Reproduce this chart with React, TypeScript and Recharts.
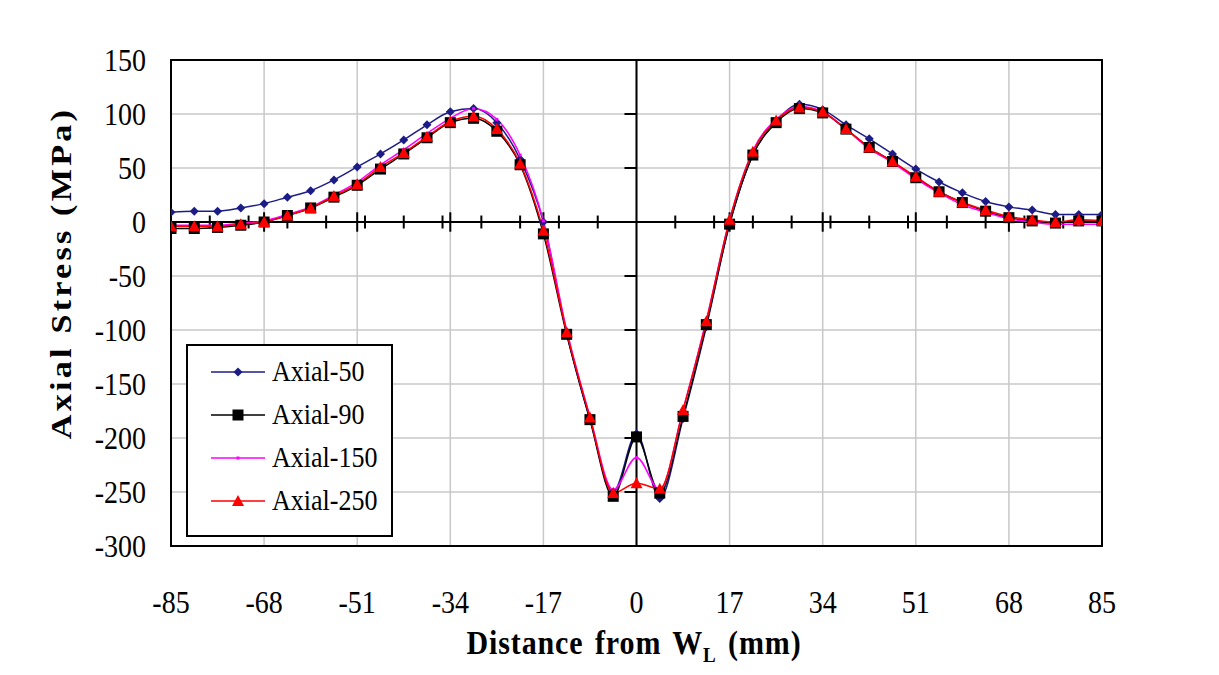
import React from 'react';
import { LineChart, Line, XAxis, YAxis, CartesianGrid, ReferenceLine, ReferenceArea, Customized } from 'recharts';

const X_VALUES = [
  -85, -80.75, -76.5, -72.25, -68, -63.75, -59.5, -55.25, -51, -46.75, -42.5,
  -38.25, -34, -29.75, -25.5, -21.25, -17, -12.75, -8.5, -4.25, 0, 4.25, 8.5,
  12.75, 17, 21.25, 25.5, 29.75, 34, 38.25, 42.5, 46.75, 51, 55.25, 59.5, 63.75,
  68, 72.25, 76.5, 80.75, 85,
];

const AXIAL_50 = [
  9, 10, 10, 13, 17, 23, 29, 39, 51, 63, 76, 90, 102, 105, 92, 58, 0, -103, -183,
  -250, -196, -256, -182, -97, -2, 62, 93, 109, 104, 90, 77, 63, 49, 37, 27, 19,
  14, 11, 7, 7, 7,
];

const AXIAL_90 = [
  -6, -6, -5, -3, 0, 6, 13, 23, 34, 49, 63, 78, 92, 96, 84, 53, -11, -104, -183,
  -254, -199, -251, -180, -95, -2, 62, 92, 105, 101, 86, 69, 56, 41, 28, 18, 10,
  4, 1, -1, 1, 1,
];

const AXIAL_150 = [
  -3, -3, -3, -1, 1, 7, 14, 25, 37, 53, 67, 82, 96, 105, 95, 62, 1, -100, -180,
  -248, -218, -248, -174, -91, 2, 66, 95, 107, 102, 86, 68, 55, 40, 27, 16, 9, 3,
  0, -2, -2, -2,
];

const AXIAL_250 = [
  -4, -4, -4, -2, 0, 6, 13, 24, 35, 51, 64, 79, 93, 98, 86, 54, -8, -102, -181,
  -251, -242, -247, -174, -92, 2, 65, 94, 106, 102, 86, 69, 56, 42, 28, 18, 11, 5,
  2, 0, 2, 1,
];

const SERIES_NAMES = ['Axial-50', 'Axial-90', 'Axial-150', 'Axial-250'];
const SERIES_KEYS = ['a50', 'a90', 'a150', 'a250'];
const SERIES_COLORS = ['#1c1c86', '#000000', '#ff00ff', '#ff0000'];

const X_TICKS = [-85, -68, -51, -34, -17, 0, 17, 34, 51, 68, 85];
const Y_TICKS = [-300, -250, -200, -150, -100, -50, 0, 50, 100, 150];
const ZERO_AXIS_MINOR_TICKS = [
  -77.92, -70.83, -63.75, -56.67, -49.58, -42.5, -35.42, -28.33, -21.25, -14.17,
  -7.08, 7.08, 14.17, 21.25, 28.33, 35.42, 42.5, 49.58, 56.67, 63.75, 70.83, 77.92,
];
const ZERO_AXIS_MAJOR_TICKS = [-68, -51, -34, -17, 17, 34, 51, 68];

const data = X_VALUES.map((x, i) => ({
  x,
  a50: AXIAL_50[i],
  a90: AXIAL_90[i],
  a150: AXIAL_150[i],
  a250: AXIAL_250[i],
}));

const FONT = '"Liberation Serif", "Times New Roman", serif';
const STRETCH = 1.14;
const FRAME_COLOR = '#5b8bd6';

type Shape = 'diamond' | 'square' | 'dash' | 'triangle';
const SHAPES: Shape[] = ['diamond', 'square', 'dash', 'triangle'];

function markerPath(shape: Shape, cx: number, cy: number): string {
  switch (shape) {
    case 'diamond':
      return `M${cx},${cy - 4.5}L${cx + 4.5},${cy}L${cx},${cy + 4.5}L${cx - 4.5},${cy}Z`;
    case 'square':
      return `M${cx - 5.5},${cy - 5.5}h11v11h-11Z`;
    case 'triangle':
      return `M${cx},${cy - 6}L${cx + 6},${cy + 5}L${cx - 6},${cy + 5}Z`;
    default:
      return `M${cx - 1.5},${cy - 1.5}h3v3h-3Z`;
  }
}

function makeDot(shape: Shape, color: string) {
  return (props: any) => {
    const { cx, cy, index } = props;
    if (cx == null || cy == null) return <g key={`d-${shape}-${index}`} />;
    return <path key={`d-${shape}-${index}`} d={markerPath(shape, cx, cy)} fill={color} stroke="none" />;
  };
}

function YTick(props: any) {
  const { x, y, payload } = props;
  return (
    <g transform={`translate(${x},${y})`}>
      <text
        transform={`scale(1,${STRETCH})`}
        textAnchor="end"
        dy="0.34em"
        fontSize={28}
        fontFamily={FONT}
        fill="#000"
      >
        {payload.value}
      </text>
    </g>
  );
}

function XTick(props: any) {
  const { x, y, payload } = props;
  return (
    <g transform={`translate(${x},${y})`}>
      <text
        transform={`scale(1,${STRETCH})`}
        textAnchor="middle"
        dy="0.71em"
        fontSize={28}
        fontFamily={FONT}
        fill="#000"
      >
        {payload.value}
      </text>
    </g>
  );
}

function Frame() {
  return (
    <path
      d="M7,690 L7,7 L1212,7 L1212,690"
      fill="none"
      stroke={FRAME_COLOR}
      strokeWidth={2}
    />
  );
}

function LegendBox() {
  return (
    <div
      style={{
        position: 'absolute',
        left: 186,
        top: 344,
        width: 203,
        height: 185,
        border: '2px solid #000',
        background: '#fff',
        paddingTop: 4,
        boxSizing: 'content-box',
      }}
    >
      {SERIES_NAMES.map((name, i) => (
        <div key={name} style={{ height: 43, display: 'flex', alignItems: 'center' }}>
          <svg width={84} height={20} style={{ flex: 'none' }}>
            <line x1={23} x2={77} y1={10} y2={10} stroke={SERIES_COLORS[i]} strokeWidth={1.5} />
            <path d={markerPath(SHAPES[i], 50, 10)} fill={SERIES_COLORS[i]} />
          </svg>
          <span
            style={{
              display: 'inline-block',
              fontFamily: FONT,
              fontSize: 26,
              color: '#000',
              lineHeight: '26px',
              transform: `scale(1, ${STRETCH})`,
            }}
          >
            {name}
          </span>
        </div>
      ))}
    </div>
  );
}

export default function App() {
  return (
    <div
      style={{
        position: 'relative',
        width: 1219,
        height: 675,
        marginLeft: -8,
        marginTop: -8,
        background: '#fff',
        overflow: 'hidden',
      }}
    >
      <div style={{ position: 'absolute', left: 0, top: 0 }}>
        <LineChart
          width={1219}
          height={675}
          data={data}
          margin={{ top: 60, right: 117, bottom: 79, left: 71 }}
        >
          <CartesianGrid stroke="#c8c8c8" strokeWidth={1.5} />
          <XAxis
            dataKey="x"
            type="number"
            domain={[-85, 85]}
            ticks={X_TICKS}
            height={50}
            tickLine={false}
            axisLine={false}
            tickSize={6}
            tickMargin={38}
            tick={<XTick />}
            interval={0}
            allowDataOverflow
          />
          <YAxis
            type="number"
            domain={[-300, 150]}
            ticks={Y_TICKS}
            width={100}
            tickLine={false}
            axisLine={false}
            tickSize={6}
            tickMargin={19}
            tick={<YTick />}
            interval={0}
            allowDataOverflow
          />
          <ReferenceLine y={0} stroke="#000" strokeWidth={2} />
          <ReferenceLine x={0} stroke="#000" strokeWidth={2} />
          {ZERO_AXIS_MINOR_TICKS.map((t) => (
            <ReferenceLine
              key={`mt${t}`}
              segment={[{ x: t, y: -6 }, { x: t, y: 6 }]}
              stroke="#000"
              strokeWidth={2}
            />
          ))}
          {ZERO_AXIS_MAJOR_TICKS.map((t) => (
            <ReferenceLine
              key={`Mt${t}`}
              segment={[{ x: t, y: -9 }, { x: t, y: 9 }]}
              stroke="#000"
              strokeWidth={2}
            />
          ))}
          {Y_TICKS.map((v) => (
            <ReferenceLine
              key={`yt${v}`}
              segment={[{ x: -2.2, y: v }, { x: 0, y: v }]}
              stroke="#000"
              strokeWidth={2}
            />
          ))}
          <ReferenceArea x1={-85} x2={85} y1={-300} y2={150} fill="none" stroke="#000" strokeWidth={2} ifOverflow="visible" />
          {SERIES_KEYS.map((k, i) => (
            <Line
              key={k}
              dataKey={k}
              name={SERIES_NAMES[i]}
              type="monotone"
              stroke={SERIES_COLORS[i]}
              strokeWidth={1.5}
              dot={makeDot(SHAPES[i], SERIES_COLORS[i])}
              activeDot={false}
              isAnimationActive={false}
            />
          ))}
          <Customized component={<Frame />} />
        </LineChart>
      </div>
      <div
        style={{
          position: 'absolute',
          left: 61,
          top: 273,
          transform: `translate(-50%, -50%) rotate(-90deg) scale(${STRETCH}, 1)`,
          whiteSpace: 'nowrap',
          fontFamily: FONT,
          fontWeight: 'bold',
          fontSize: 30,
          letterSpacing: 2.8,
          color: '#000',
        }}
      >
        Axial Stress (MPa)
      </div>
      <div
        style={{
          position: 'absolute',
          left: 634,
          top: 645,
          transform: `translate(-50%, -50%) scale(1, ${STRETCH})`,
          whiteSpace: 'nowrap',
          fontFamily: FONT,
          fontWeight: 'bold',
          fontSize: 30,
          letterSpacing: 0.9,
          wordSpacing: 3,
          color: '#000',
        }}
      >
        Distance from W<sub style={{ fontSize: 19 }}>L</sub> (mm)
      </div>
      <LegendBox />
    </div>
  );
}
